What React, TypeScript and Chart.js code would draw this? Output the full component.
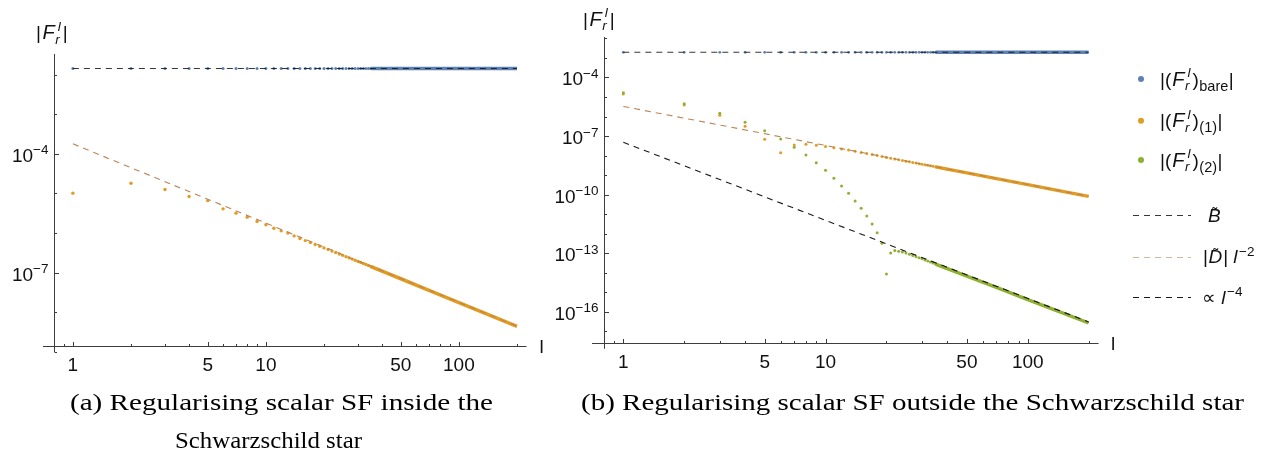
import React, { useEffect, useRef } from "react";
import { Chart, registerables } from "chart.js";

Chart.register(...registerables);

// ---------------- data ----------------
const L_DOTS = [1, 2, 3, 4, 5, 6, 7, 8, 9, 10, 11, 12, 13, 14, 15, 16, 17, 18, 19, 20, 21, 22, 23, 24, 25, 26, 27, 28, 29, 30, 31, 32, 33, 34, 35, 36, 37, 38, 39, 40];
const L_TAIL = [35, 40, 50, 70, 100, 140, 200];
const L_ENDS = [1, 200];

const X_MAJOR_TICKS = [1, 5, 10, 50, 100];
const X_MINOR_TICKS = [0.9, 2, 3, 4, 6, 7, 8, 9, 20, 30, 40, 60, 70, 80, 90, 200];

// panel (a): inside the star
const A_BARE = [0.0142, 0.0142, 0.0142, 0.0142, 0.0142, 0.0142, 0.0142, 0.0142, 0.0142, 0.0142, 0.0142, 0.0142, 0.0142, 0.0142, 0.0142, 0.0142, 0.0142, 0.0142, 0.0142, 0.0142, 0.0142, 0.0142, 0.0142, 0.0142, 0.0142, 0.0142, 0.0142, 0.0142, 0.0142, 0.0142, 0.0142, 0.0142, 0.0142, 0.0142, 0.0142, 0.0142, 0.0142, 0.0142, 0.0142, 0.0142];
const A_BARE_TAIL = [0.0142, 0.0142, 0.0142, 0.0142, 0.0142, 0.0142, 0.0142];
const A_ORDER1 = [1.02e-5, 1.82e-5, 1.26e-5, 8.4e-6, 6.6e-6, 4.1e-6, 3.19e-6, 2.53e-6, 1.96e-6, 1.62e-6, 1.33e-6, 1.14e-6, 1.0e-6, 8.5e-7, 7.3e-7, 6.47e-7, 5.76e-7, 5.16e-7, 4.66e-7, 4.23e-7, 3.85e-7, 3.52e-7, 3.23e-7, 2.97e-7, 2.75e-7, 2.55e-7, 2.37e-7, 2.21e-7, 2.06e-7, 1.93e-7, 1.82e-7, 1.71e-7, 1.61e-7, 1.52e-7, 1.43e-7, 1.36e-7, 1.285e-7, 1.22e-7, 1.16e-7, 1.10e-7];
const A_ORDER1_TAIL = [1.43e-7, 1.10e-7, 7.05e-8, 3.6e-8, 1.77e-8, 9.0e-9, 4.45e-9];
const A_B_TILDE = [0.0142, 0.0142];
const A_D_FIT = [1.79e-4, 4.47e-9];
const A_Y_TICK_EXP = [-9, -8, -7, -6, -5, -4, -3, -2];
const A_Y_LABEL_EXP = [-7, -4];

// panel (b): outside the star
const B_BARE = [1.95e-3, 1.95e-3, 1.95e-3, 1.95e-3, 1.95e-3, 1.95e-3, 1.95e-3, 1.95e-3, 1.95e-3, 1.95e-3, 1.95e-3, 1.95e-3, 1.95e-3, 1.95e-3, 1.95e-3, 1.95e-3, 1.95e-3, 1.95e-3, 1.95e-3, 1.95e-3, 1.95e-3, 1.95e-3, 1.95e-3, 1.95e-3, 1.95e-3, 1.95e-3, 1.95e-3, 1.95e-3, 1.95e-3, 1.95e-3, 1.95e-3, 1.95e-3, 1.95e-3, 1.95e-3, 1.95e-3, 1.95e-3, 1.95e-3, 1.95e-3, 1.95e-3, 1.95e-3];
const B_BARE_TAIL = [1.95e-3, 1.95e-3, 1.95e-3, 1.95e-3, 1.95e-3, 1.95e-3, 1.95e-3];
const B_ORDER1 = [1.43e-5, 3.9e-6, 1.16e-6, 3.16e-7, 6.8e-8, 1.41e-8, 3.48e-8, 3.8e-8, 3.37e-8, 2.92e-8, 2.53e-8, 2.17e-8, 1.93e-8, 1.68e-8, 1.45e-8, 1.26e-8, 1.12e-8, 1.0e-8, 8.96e-9, 8.08e-9, 7.33e-9, 6.68e-9, 6.11e-9, 5.61e-9, 5.17e-9, 4.78e-9, 4.44e-9, 4.12e-9, 3.85e-9, 3.59e-9, 3.37e-9, 3.16e-9, 2.97e-9, 2.80e-9, 2.64e-9, 2.50e-9, 2.36e-9, 2.24e-9, 2.13e-9, 2.02e-9];
const B_ORDER1_TAIL = [2.64e-9, 2.02e-9, 1.29e-9, 6.6e-10, 3.23e-10, 1.65e-10, 8.1e-11];
const B_ORDER2 = [1.66e-5, 4.55e-6, 1.47e-6, 5.07e-7, 1.88e-7, 7.06e-8, 2.65e-8, 1.07e-8, 4.3e-9, 1.76e-9, 6.85e-10, 2.77e-10, 1.17e-10, 4.7e-11, 2.0e-11, 8.0e-12, 3.1e-12, 1.1e-12, 3.2e-13, 8.5e-15, 1.02e-13, 1.35e-13, 1.26e-13, 1.15e-13, 1.02e-13, 8.7e-14, 7.6e-14, 6.6e-14, 5.8e-14, 5.1e-14, 4.47e-14, 3.94e-14, 3.48e-14, 3.09e-14, 2.75e-14, 2.46e-14, 2.20e-14, 1.98e-14, 1.78e-14, 1.63e-14];
const B_ORDER2_TAIL = [2.75e-14, 1.63e-14, 6.7e-15, 1.76e-15, 4.2e-16, 1.1e-16, 2.64e-17];
const B_B_TILDE = [1.95e-3, 1.95e-3];
const B_D_FIT = [3.3e-6, 8.25e-11];
const B_L4_FIT = [4.8e-8, 3.0e-17];
const B_Y_TICK_EXP = [-17, -16, -15, -14, -13, -12, -11, -10, -9, -8, -7, -6, -5, -4, -3, -2];
const B_Y_LABEL_EXP = [-16, -13, -10, -7, -4];

// ---------------- styles ----------------
const BLUE = "#5E81B5";
const ORANGE = "#E19C24";
const GREEN = "#8FB032";
const BTILDE_COLOR = "rgba(20,20,20,0.85)";
const DFIT_COLOR = "rgb(188,132,84)";
const DFIT_LEGEND = "rgb(208,184,160)";
const L4_COLOR = "rgba(0,0,0,0.9)";
const AXIS_COLOR = "#3c3c3c";
const TEXT_COLOR = "#111";
const SANS = '"Liberation Sans", Arimo, Arial, Helvetica, sans-serif';
const DASH = [6, 5];
const OFFSET_B = 520;

type Seg = { t: string; s: number; i?: boolean; dy?: number; dx?: number; stack?: boolean; tilde?: boolean };

const fontOf = (g: Seg) => `${g.i ? "italic " : ""}${g.s}px ${SANS}`;

function drawRich(ctx: CanvasRenderingContext2D, x: number, base: number, segs: Seg[], align: "left" | "right" | "center") {
  const w = segs.map((g) => {
    ctx.font = fontOf(g);
    return ctx.measureText(g.t).width;
  });
  const pos: number[] = [];
  let total = 0;
  let k = 0;
  while (k < segs.length) {
    const a = segs[k];
    if (a.stack && k + 1 < segs.length) {
      const b = segs[k + 1];
      pos[k] = total + (a.dx || 0);
      pos[k + 1] = total + (b.dx || 0);
      total += Math.max((a.dx || 0) + w[k], (b.dx || 0) + w[k + 1]);
      k += 2;
    } else {
      pos[k] = total + (a.dx || 0);
      total += (a.dx || 0) + w[k];
      k += 1;
    }
  }
  const x0 = align === "left" ? x : align === "right" ? x - total : x - total / 2;
  ctx.textAlign = "left";
  ctx.textBaseline = "alphabetic";
  ctx.fillStyle = TEXT_COLOR;
  segs.forEach((g, j) => {
    ctx.font = fontOf(g);
    const gx = x0 + pos[j];
    const gy = base + (g.dy || 0);
    ctx.fillText(g.t, gx, gy);
    if (g.tilde) {
      ctx.font = `15px ${SANS}`;
      ctx.textAlign = "center";
      ctx.fillText("\u02DC", gx + w[j] / 2 + 0.5, gy - 4);
      ctx.textAlign = "left";
    }
  });
}

const pts = (xs: number[], ys: number[]) => xs.map((x, i) => ({ x, y: ys[i] }));

const dots = (xs: number[], ys: number[], color: string, r: number, order: number) => ({
  data: pts(xs, ys),
  showLine: false,
  pointRadius: r,
  pointBackgroundColor: color,
  pointBorderColor: color,
  pointBorderWidth: 0,
  order,
});
const band = (xs: number[], ys: number[], color: string, w: number, order: number) => ({
  data: pts(xs, ys),
  showLine: true,
  borderColor: color,
  borderWidth: w,
  pointRadius: 0,
  fill: false,
  order,
});
const dashed = (ys: number[], color: string) => ({
  data: pts(L_ENDS, ys),
  showLine: true,
  borderColor: color,
  borderWidth: 1.1,
  borderDash: DASH,
  pointRadius: 0,
  fill: false,
  order: 0,
});

const TITLE_SEGS: Seg[] = [
  { t: "|", s: 19 },
  { t: "F", s: 20, i: true, dx: 1.5 },
  { t: "r", s: 13.5, i: true, dy: 4.5, stack: true, dx: 0.5 },
  { t: "l", s: 13.5, i: true, dy: -8.5, dx: 3 },
  { t: "|", s: 19, dx: 2 },
];

type AxCfg = {
  yAxisAtX: number;
  xAxisAtY: number;
  yTickExp: number[];
  yLabelExp: number[];
  title: [number, number];
  lLabel: [number, number];
  legend?: boolean;
};

function axesPlugin(cfg: AxCfg) {
  return {
    id: "mmaAxes",
    afterDatasetsDraw(chart: any) {
      const ctx: CanvasRenderingContext2D = chart.ctx;
      const xs = chart.scales.x;
      const ys = chart.scales.y;
      const area = chart.chartArea;
      const ax = Math.round(xs.getPixelForValue(cfg.yAxisAtX)) + 0.5;
      const ay = Math.round(ys.getPixelForValue(cfg.xAxisAtY)) + 0.5;
      ctx.save();
      ctx.strokeStyle = AXIS_COLOR;
      ctx.lineWidth = 1;
      ctx.setLineDash([]);
      ctx.beginPath();
      ctx.moveTo(area.left, ay);
      ctx.lineTo(area.right, ay);
      ctx.moveTo(ax, area.top);
      ctx.lineTo(ax, area.bottom);
      cfg.yTickExp.forEach((e) => {
        const py = Math.round(ys.getPixelForValue(Math.pow(10, e))) + 0.5;
        const len = cfg.yLabelExp.includes(e) ? 4.5 : 2.5;
        ctx.moveTo(ax, py);
        ctx.lineTo(ax + len, py);
      });
      X_MAJOR_TICKS.forEach((v) => {
        const px = Math.round(xs.getPixelForValue(v)) + 0.5;
        ctx.moveTo(px, ay);
        ctx.lineTo(px, ay - 4.5);
      });
      X_MINOR_TICKS.forEach((v) => {
        const px = Math.round(xs.getPixelForValue(v)) + 0.5;
        ctx.moveTo(px, ay);
        ctx.lineTo(px, ay - 2.5);
      });
      ctx.stroke();

      cfg.yLabelExp.forEach((e) => {
        const py = ys.getPixelForValue(Math.pow(10, e));
        drawRich(ctx, ax - 6, py + 8, [
          { t: "10", s: 19 },
          { t: "\u2212" + String(-e), s: 13.5, dy: -7.5 },
        ], "right");
      });
      X_MAJOR_TICKS.forEach((v) => {
        const px = xs.getPixelForValue(v);
        drawRich(ctx, px, ay + 24, [{ t: String(v), s: 19 }], "center");
      });
      drawRich(ctx, cfg.title[0], cfg.title[1], TITLE_SEGS, "left");
      drawRich(ctx, cfg.lLabel[0], cfg.lLabel[1], [{ t: "l", s: 19 }], "left");

      if (cfg.legend) {
        const o = OFFSET_B;
        const dotX = 1141 - o;
        const textX = 1160 - o;
        const rows: [string, number, string][] = [
          [BLUE, 79, "bare"],
          [ORANGE, 120.7, "(1)"],
          [GREEN, 160, "(2)"],
        ];
        rows.forEach(([c, y, sub]) => {
          ctx.fillStyle = c;
          ctx.beginPath();
          ctx.arc(dotX, y, 3, 0, Math.PI * 2);
          ctx.fill();
          drawRich(ctx, textX, y + 6.5, [
            { t: "|(", s: 19 },
            { t: "F", s: 20, i: true, dx: 1 },
            { t: "r", s: 13.5, i: true, dy: 4.5, stack: true, dx: 0.5 },
            { t: "l", s: 13.5, i: true, dy: -8.5, dx: 3 },
            { t: ")", s: 19, dx: 2 },
            { t: sub, s: 14.5, dy: 5, dx: 0.5 },
            { t: "|", s: 19, dx: 0.5 },
          ], "left");
        });
        const lines: [string, number][] = [
          [BTILDE_COLOR, 215],
          [DFIT_LEGEND, 256.7],
          [L4_COLOR, 297.3],
        ];
        lines.forEach(([c, y]) => {
          ctx.strokeStyle = c;
          ctx.lineWidth = 1.1;
          ctx.setLineDash(DASH);
          ctx.beginPath();
          ctx.moveTo(1133 - o, Math.round(y) + 0.5);
          ctx.lineTo(1191 - o, Math.round(y) + 0.5);
          ctx.stroke();
        });
        ctx.setLineDash([]);
        drawRich(ctx, 1208 - o, 221.5, [{ t: "B", s: 19, i: true, tilde: true }], "left");
        drawRich(ctx, 1203 - o, 263, [
          { t: "|", s: 19 },
          { t: "D", s: 19, i: true, tilde: true, dx: 0.5 },
          { t: "|", s: 19, dx: 1 },
          { t: " ", s: 19 },
          { t: "l", s: 19, i: true },
          { t: "\u22122", s: 13.5, dy: -7.5, dx: 1.5 },
        ], "left");
        drawRich(ctx, 1202 - o, 303.5, [
          { t: "\u221D ", s: 19 },
          { t: "l", s: 19, i: true },
          { t: "\u22124", s: 13.5, dy: -7.5, dx: 1.5 },
        ], "left");
      }
      ctx.restore();
    },
  };
}

function configA(): any {
  return {
    type: "scatter",
    data: {
      datasets: [
        dashed(A_B_TILDE, BTILDE_COLOR),
        dashed(A_D_FIT, DFIT_COLOR),
        dots(L_DOTS, A_ORDER1, ORANGE, 1.7, 2),
        band(L_TAIL, A_ORDER1_TAIL, ORANGE, 3.6, 2),
        dots(L_DOTS, A_BARE, BLUE, 1.5, 3),
        band(L_TAIL, A_BARE_TAIL, BLUE, 3.6, 3),
      ],
    },
    options: {
      animation: false,
      responsive: false,
      devicePixelRatio: 1,
      events: [],
      layout: { padding: { left: 43, right: 21.5, top: 54, bottom: 28 } },
      plugins: { legend: { display: false }, tooltip: { enabled: false } },
      scales: {
        x: { type: "logarithmic", min: 0.708, max: 224, display: false },
        y: { type: "logarithmic", min: 1e-9, max: Math.pow(10, -1.48), display: false },
      },
    },
    plugins: [
      axesPlugin({
        yAxisAtX: 0.8,
        xAxisAtY: Math.pow(10, -8.848),
        yTickExp: A_Y_TICK_EXP,
        yLabelExp: A_Y_LABEL_EXP,
        title: [36, 39],
        lLabel: [539.5, 353],
      }),
    ],
  };
}

function configB(): any {
  return {
    type: "scatter",
    data: {
      datasets: [
        dashed(B_B_TILDE, BTILDE_COLOR),
        dashed(B_D_FIT, DFIT_COLOR),
        dashed(B_L4_FIT, L4_COLOR),
        dots(L_DOTS, B_ORDER2, GREEN, 1.5, 1),
        band(L_TAIL, B_ORDER2_TAIL, GREEN, 3.4, 1),
        dots(L_DOTS, B_ORDER1, ORANGE, 1.5, 2),
        band(L_TAIL, B_ORDER1_TAIL, ORANGE, 3.4, 2),
        dots(L_DOTS, B_BARE, BLUE, 1.4, 3),
        band(L_TAIL, B_BARE_TAIL, BLUE, 3.4, 3),
      ],
    },
    options: {
      animation: false,
      responsive: false,
      devicePixelRatio: 1,
      events: [],
      layout: { padding: { left: 592 - OFFSET_B, right: 178.4, top: 37, bottom: 31.2 } },
      plugins: { legend: { display: false }, tooltip: { enabled: false } },
      scales: {
        x: { type: "logarithmic", min: 0.72, max: 224, display: false },
        y: { type: "logarithmic", min: Math.pow(10, -17.9), max: Math.pow(10, -1.925), display: false },
      },
    },
    plugins: [
      axesPlugin({
        yAxisAtX: 0.8,
        xAxisAtY: Math.pow(10, -17.617),
        yTickExp: B_Y_TICK_EXP,
        yLabelExp: B_Y_LABEL_EXP,
        title: [583 - OFFSET_B, 25.5],
        lLabel: [1111 - OFFSET_B, 350],
        legend: true,
      }),
    ],
  };
}

export default function App() {
  const refA = useRef<HTMLCanvasElement>(null);
  const refB = useRef<HTMLCanvasElement>(null);
  useEffect(() => {
    const a = new Chart(refA.current as HTMLCanvasElement, configA());
    const b = new Chart(refB.current as HTMLCanvasElement, configB());
    return () => {
      a.destroy();
      b.destroy();
    };
  }, []);
  const cap = { fontFamily: '"Liberation Serif", Tinos, "Times New Roman", Times, serif', fontSize: 24, fill: "#000" } as any;
  const wB = 1277 - OFFSET_B;
  return (
    <div style={{ position: "absolute", left: 0, top: 0, width: 1277, height: 469, background: "#fff", overflow: "hidden" }}>
      <canvas ref={refA} width={548} height={380} style={{ position: "absolute", left: 0, top: 0, width: 548, height: 380 }} />
      <canvas ref={refB} width={wB} height={380} style={{ position: "absolute", left: OFFSET_B, top: 0, width: wB, height: 380 }} />
      <svg width={1277} height={469} style={{ position: "absolute", left: 0, top: 0, pointerEvents: "none" }}>
        <text x={70} y={410} textLength={423} lengthAdjust="spacingAndGlyphs" style={cap}>
          (a) Regularising scalar SF inside the
        </text>
        <text x={175} y={448} textLength={187} lengthAdjust="spacingAndGlyphs" style={cap}>
          Schwarzschild star
        </text>
        <text x={581} y={410} textLength={663} lengthAdjust="spacingAndGlyphs" style={cap}>
          (b) Regularising scalar SF outside the Schwarzschild star
        </text>
      </svg>
    </div>
  );
}
